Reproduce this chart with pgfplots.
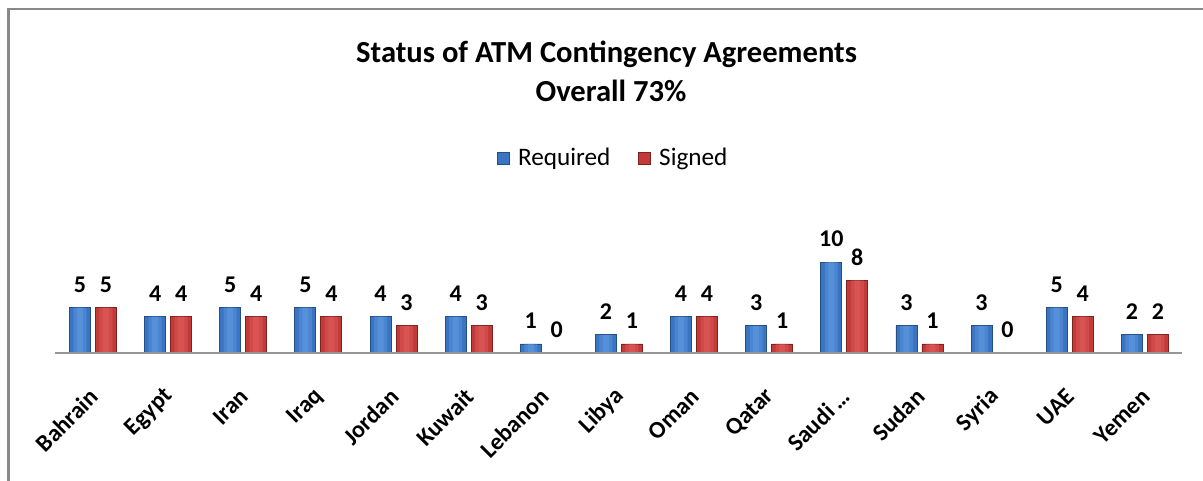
\documentclass[border=0pt]{standalone}
\usepackage{fontspec}
\setmainfont{Carlito}
\usepackage{pgfplots}
\pgfplotsset{compat=1.18}
\definecolor{bluemain}{HTML}{3A74C2}
\definecolor{bluelight}{HTML}{6AA6EC}
\definecolor{blueline}{HTML}{244F85}
\definecolor{redmain}{HTML}{C23B39}
\definecolor{redlight}{HTML}{E86866}
\definecolor{redline}{HTML}{7E2220}
\pgfplotstableread{
x req sig
0 5 5
1 4 4
2 5 4
3 5 4
4 4 3
5 4 3
6 1 0
7 2 1
8 4 4
9 3 1
10 10 8
11 3 1
12 3 0
13 5 4
14 2 2
}\data
\begin{document}
\begin{tikzpicture}
\path[use as bounding box] (0pt,0pt) rectangle (601.5pt,-240.5pt);
\draw[color={rgb,255:red,136;green,136;blue,136}, line width=1.3pt] (4.3pt,-400pt) -- (4.3pt,-4.5pt) -- (800pt,-4.5pt);
\node[font=\fontsize{15.3}{17}\selectfont\bfseries, anchor=base] at (303.3pt,-31.5pt) {Status of ATM Contingency Agreements};
\node[font=\fontsize{15.3}{17}\selectfont\bfseries, anchor=base] at (305.5pt,-51pt) {Overall 73\%};
\begin{axis}[
  at={(27.7pt,-176.5pt)}, anchor=south west,
  scale only axis, width=563.5pt, height=54.5pt,
  xmin=-0.5, xmax=14.5, ymin=0, ymax=12,
  ybar,
  axis x line*=bottom, axis y line=none,
  x axis line style={color={rgb,255:red,150;green,150;blue,150}, line width=1.1pt, -},
  axis on top,
  xtick={0,...,14}, major tick length=0pt,
  xticklabels={Bahrain,Egypt,Iran,Iraq,Jordan,Kuwait,Lebanon,Libya,Oman,Qatar,Saudi\,\ldots,Sudan,Syria,UAE,Yemen},
  xticklabel style={xshift=3pt, rotate=45, anchor=east, font=\fontsize{12}{14}\selectfont\bfseries},
  xticklabel shift=17.5pt,
  /pgf/number format/assume math mode=true,
  legend columns=2,
  legend style={at={(0.496,1.789)}, anchor=center, draw=none, fill=none,
    font=\fontsize{12.6}{14}\selectfont,
    /tikz/every odd column/.append style={column sep=2pt},
    /tikz/every even column/.append style={column sep=12pt}},
  legend image code/.code={\draw[#1] (0pt,-3pt) rectangle (6pt,3pt);},
  clip=false,
]
\addplot[bar width=10.5pt, bar shift=-6.5pt, draw=blueline, line width=0.4pt, fill=bluemain,
  nodes near coords, nodes near coords style={font=\fontsize{12}{14}\selectfont\bfseries, yshift=4pt, text=black}]
  table[x=x, y=req] {\data};
\addplot[bar width=10.5pt, bar shift=6.5pt, draw=redline, line width=0.4pt, fill=redmain,
  nodes near coords, nodes near coords style={font=\fontsize{12}{14}\selectfont\bfseries, yshift=4pt, text=black}]
  table[x=x, y=sig] {\data};
\legend{Required,Signed}
\addplot[forget plot, bar width=6.5pt, bar shift=-6.5pt, draw=none, fill=bluelight, fill opacity=0.35] table[x=x, y=req] {\data};
\addplot[forget plot, bar width=3pt, bar shift=-6.5pt, draw=none, fill=bluelight, fill opacity=0.35] table[x=x, y=req] {\data};
\addplot[forget plot, bar width=6.5pt, bar shift=6.5pt, draw=none, fill=redlight, fill opacity=0.35] table[x=x, y=sig] {\data};
\addplot[forget plot, bar width=3pt, bar shift=6.5pt, draw=none, fill=redlight, fill opacity=0.35] table[x=x, y=sig] {\data};
\end{axis}
\end{tikzpicture}
\end{document}
